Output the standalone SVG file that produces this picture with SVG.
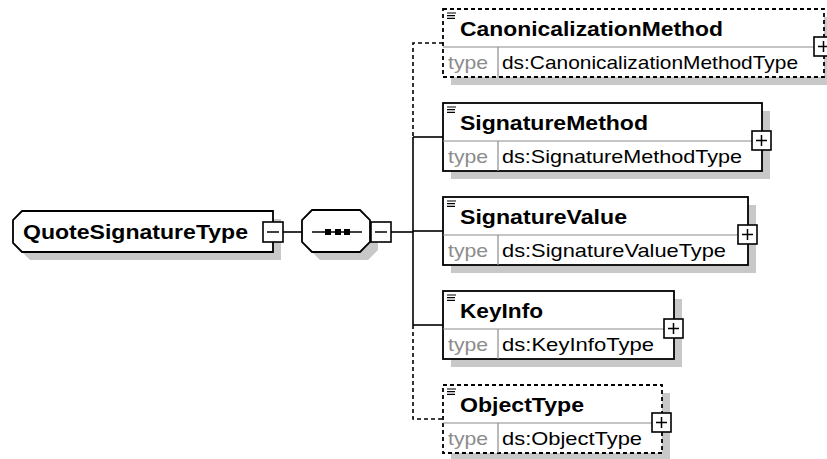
<svg xmlns="http://www.w3.org/2000/svg" width="827" height="459" viewBox="0 0 827 459">
<style>
.shadow{fill:#c8c8c8;stroke:none}
.box{fill:#fff;stroke:#000;stroke-width:1.8}
.opt{fill:#fff;stroke:#000;stroke-width:1.8;stroke-dasharray:4 3}
.div{stroke:#8c8c8c;stroke-width:1.2}
.icon{stroke:#000;stroke-width:1.2}
.pm{fill:#fff;stroke:#000;stroke-width:1.6}
.pl{stroke:#000;stroke-width:1.5}
.ln{stroke:#000;stroke-width:1.6;fill:none}
.dash{stroke:#000;stroke-width:1.6;fill:none;stroke-dasharray:4 3}
.name{font-family:"Liberation Sans",Arial,sans-serif;font-weight:bold;font-size:21px;fill:#000}
.tl{font-family:"Liberation Sans",Arial,sans-serif;font-size:18.5px;fill:#8c8c8c}
.tv{font-family:"Liberation Sans",Arial,sans-serif;font-size:18.5px;fill:#000}
</style>
<rect width="827" height="459" fill="#fff"/>

<g id="connectors">
<line class="ln" x1="283" y1="232" x2="302" y2="232"/>
<line class="ln" x1="391" y1="232" x2="413" y2="232"/>
<path class="dash" d="M443 43 H413 V137"/>
<path class="ln" d="M413 137 V325"/>
<path class="dash" d="M413 325 V419 H443"/>
<line class="ln" x1="413" y1="137" x2="443" y2="137"/>
<line class="ln" x1="413" y1="231" x2="443" y2="231"/>
<line class="ln" x1="413" y1="325" x2="443" y2="325"/>
</g>

<g id="QuoteSignatureType">
<path class="shadow" d="M30 219 H281 V260 H30 L21 251 V228 Z"/>
<path class="box" d="M22 211 H273 V252 H22 L13 243 V220 Z"/>
<text class="name" x="23" y="239" textLength="225" lengthAdjust="spacingAndGlyphs">QuoteSignatureType</text>
<rect class="pm" x="263" y="222" width="20" height="20"/>
<line class="pl" x1="267" y1="232" x2="279" y2="232"/>
</g>

<g id="sequence">
<path class="shadow" d="M320 218 H368 L378 228 V250 L368 260 H320 L310 250 V228 Z"/>
<path class="box" d="M312 210 H360 L370 220 V242 L360 252 H312 L302 242 V220 Z"/>
<line class="ln" x1="312" y1="232" x2="362" y2="232"/>
<rect x="325" y="229" width="6" height="6" fill="#000"/>
<rect x="335" y="229" width="6" height="6" fill="#000"/>
<rect x="344" y="229" width="6" height="6" fill="#000"/>
<rect class="pm" x="371" y="222" width="20" height="20"/>
<line class="pl" x1="375" y1="232" x2="387" y2="232"/>
</g>

<g id="CanonicalizationMethod">
<rect class="shadow" x="451" y="17" width="381" height="68"/>
<rect class="opt" x="443" y="9" width="381" height="68"/>
<line class="div" x1="443" y1="47" x2="824" y2="47"/>
<line class="div" x1="498" y1="47" x2="498" y2="77"/>
<path class="icon" d="M447 13 H456 M447 15.7 H455 M447 18.3 H455"/>
<text class="name" x="460" y="36" textLength="263" lengthAdjust="spacingAndGlyphs">CanonicalizationMethod</text>
<text class="tl" x="448" y="69" textLength="40" lengthAdjust="spacingAndGlyphs">type</text>
<text class="tv" x="502" y="69" textLength="296" lengthAdjust="spacingAndGlyphs">ds:CanonicalizationMethodType</text>
<rect class="pm" x="814" y="37" width="19" height="19"/>
<path class="pl" d="M818 46.5 H829 M823.5 41 V52"/>
</g>

<g id="SignatureMethod">
<rect class="shadow" x="451" y="111" width="319" height="68"/>
<rect class="box" x="443" y="103" width="319" height="68"/>
<line class="div" x1="443" y1="141" x2="762" y2="141"/>
<line class="div" x1="498" y1="141" x2="498" y2="171"/>
<path class="icon" d="M447 107 H456 M447 109.7 H455 M447 112.3 H455"/>
<text class="name" x="460" y="130" textLength="188" lengthAdjust="spacingAndGlyphs">SignatureMethod</text>
<text class="tl" x="448" y="163" textLength="40" lengthAdjust="spacingAndGlyphs">type</text>
<text class="tv" x="502" y="163" textLength="240" lengthAdjust="spacingAndGlyphs">ds:SignatureMethodType</text>
<rect class="pm" x="752" y="131" width="19" height="19"/>
<path class="pl" d="M756 140.5 H767 M761.5 135 V146"/>
</g>

<g id="SignatureValue">
<rect class="shadow" x="451" y="205" width="305" height="68"/>
<rect class="box" x="443" y="197" width="305" height="68"/>
<line class="div" x1="443" y1="235" x2="748" y2="235"/>
<line class="div" x1="498" y1="235" x2="498" y2="265"/>
<path class="icon" d="M447 201 H456 M447 203.7 H455 M447 206.3 H455"/>
<text class="name" x="460" y="224" textLength="167" lengthAdjust="spacingAndGlyphs">SignatureValue</text>
<text class="tl" x="448" y="257" textLength="40" lengthAdjust="spacingAndGlyphs">type</text>
<text class="tv" x="502" y="257" textLength="224" lengthAdjust="spacingAndGlyphs">ds:SignatureValueType</text>
<rect class="pm" x="738" y="225" width="19" height="19"/>
<path class="pl" d="M742 234.5 H753 M747.5 229 V240"/>
</g>

<g id="KeyInfo">
<rect class="shadow" x="451" y="299" width="231" height="68"/>
<rect class="box" x="443" y="291" width="231" height="68"/>
<line class="div" x1="443" y1="329" x2="674" y2="329"/>
<line class="div" x1="498" y1="329" x2="498" y2="359"/>
<path class="icon" d="M447 295 H456 M447 297.7 H455 M447 300.3 H455"/>
<text class="name" x="460" y="318" textLength="83" lengthAdjust="spacingAndGlyphs">KeyInfo</text>
<text class="tl" x="448" y="351" textLength="40" lengthAdjust="spacingAndGlyphs">type</text>
<text class="tv" x="502" y="351" textLength="152" lengthAdjust="spacingAndGlyphs">ds:KeyInfoType</text>
<rect class="pm" x="664" y="319" width="19" height="19"/>
<path class="pl" d="M668 328.5 H679 M673.5 323 V334"/>
</g>

<g id="ObjectType">
<rect class="shadow" x="451" y="393" width="219" height="68"/>
<rect class="opt" x="443" y="385" width="219" height="68"/>
<line class="div" x1="443" y1="423" x2="662" y2="423"/>
<line class="div" x1="498" y1="423" x2="498" y2="453"/>
<path class="icon" d="M447 389 H456 M447 391.7 H455 M447 394.3 H455"/>
<text class="name" x="460" y="412" textLength="124" lengthAdjust="spacingAndGlyphs">ObjectType</text>
<text class="tl" x="448" y="445" textLength="40" lengthAdjust="spacingAndGlyphs">type</text>
<text class="tv" x="502" y="445" textLength="140" lengthAdjust="spacingAndGlyphs">ds:ObjectType</text>
<rect class="pm" x="652" y="413" width="19" height="19"/>
<path class="pl" d="M656 422.5 H667 M661.5 417 V428"/>
</g>
</svg>
